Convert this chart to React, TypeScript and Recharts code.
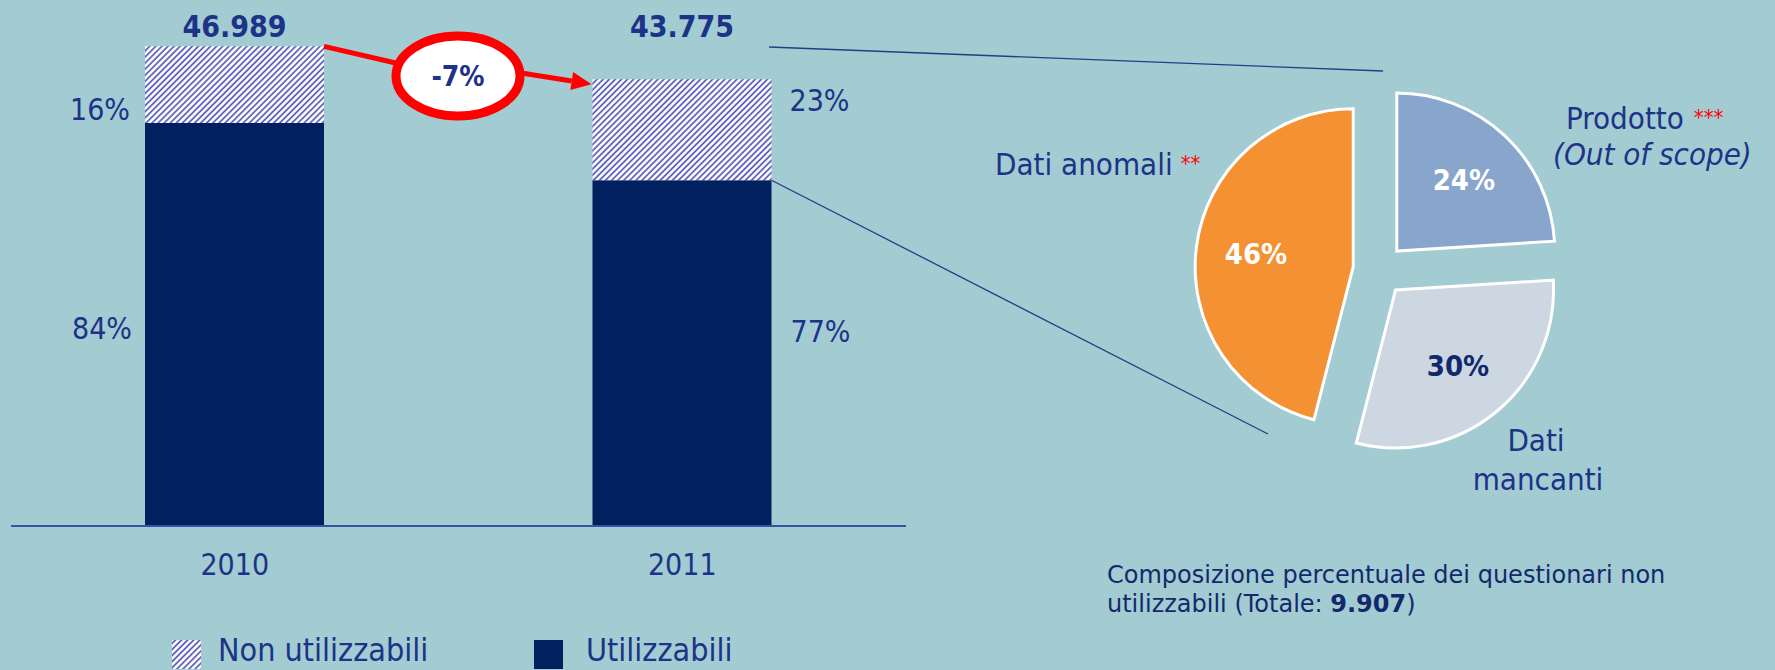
import React from 'react';
import { BarChart, Bar, XAxis, YAxis, LabelList, Legend, PieChart, Pie, Cell } from 'recharts';

// ---- data ----
const years = ['2010', '2011'];
const utilizzabili = [39471, 33868];
const nonUtilizzabili = [7518, 9907];
const totalLabels = ['46.989', '43.775'];
const pctNon = ['16%', '23%'];
const pctUtil = ['84%', '77%'];
const seriesNames = ['Non utilizzabili', 'Utilizzabili'];
const changeLabel = '-7%';

const pieNames = ['Prodotto', 'Dati mancanti', 'Dati anomali'];
const pieValues = [24, 30, 46];
const pieColors = ['#88a5cb', '#cdd7e2', '#f39133'];
const pieLabelColors = ['#ffffff', '#0f2a6c', '#ffffff'];
const captionTotal = '9.907';

// ---- layout / styles ----
const pctNonY = [120, 111];
const pctUtilY = [339, 342];
const BG = '#a2cbd2';
const NAVY = '#002060';
const TEXT = '#1c3388';
const RED = '#ff0000';
const COND = "'DejaVu Sans Condensed', 'Liberation Sans Narrow', 'DejaVu Sans', sans-serif";
const REG = "'DejaVu Sans', sans-serif";
const EXPLODE = 26;
const PIE_R = 158;
const PIE_CX = 424;
const PIE_CY = 265;

const vbOf = (p: any) => {
  const v = p.viewBox && p.viewBox.width !== undefined ? p.viewBox : p;
  return { x: Number(v.x), y: Number(v.y), w: Number(v.width), h: Number(v.height) };
};

const NonLabel = (p: any) => {
  const { x, y, w } = vbOf(p);
  const i = p.index;
  const pct =
    i === 0 ? (
      <text x={x - 15} y={pctNonY[i]} textAnchor="end" fill={TEXT} fontSize={30} fontFamily={COND}>{pctNon[i]}</text>
    ) : (
      <text x={x + w + 18} y={pctNonY[i]} textAnchor="start" fill={TEXT} fontSize={30} fontFamily={COND}>{pctNon[i]}</text>
    );
  let arrow = null;
  if (i === 0) {
    arrow = <line x1={x + w} y1={y} x2={400} y2={64} stroke={RED} strokeWidth={5} />;
  } else {
    const sx = 515, sy = 72, tx = x - 1, ty = y + 5;
    const ang = Math.atan2(ty - sy, tx - sx);
    const L = 20, W = 9;
    const bx = tx - L * Math.cos(ang), by = ty - L * Math.sin(ang);
    const px = -Math.sin(ang) * W, py = Math.cos(ang) * W;
    arrow = (
      <g>
        <line x1={sx} y1={sy} x2={bx} y2={by} stroke={RED} strokeWidth={5} />
        <polygon points={`${tx},${ty} ${bx + px},${by + py} ${bx - px},${by - py}`} fill={RED} />
      </g>
    );
  }
  return (
    <g>
      {arrow}
      {pct}
      <text x={x + w / 2} y={37} textAnchor="middle" fill={TEXT} fontSize={30} fontWeight="bold" fontFamily={COND}>{totalLabels[i]}</text>
    </g>
  );
};

const UtilLabel = (p: any) => {
  const { x, y, w } = vbOf(p);
  const i = p.index;
  return (
    <g>
      {i === 0 ? (
        <text x={x - 13} y={pctUtilY[i]} textAnchor="end" fill={TEXT} fontSize={30} fontFamily={COND}>{pctUtil[i]}</text>
      ) : (
        <text x={x + w + 19} y={pctUtilY[i]} textAnchor="start" fill={TEXT} fontSize={30} fontFamily={COND}>{pctUtil[i]}</text>
      )}
      {i === 1 ? <line x1={x + w} y1={y} x2={1268} y2={434} stroke="#2b3a86" strokeWidth={1.3} /> : null}
    </g>
  );
};

const LegendContent = () => (
  <svg width={700} height={34} style={{ display: 'block', overflow: 'visible' }}>
    <rect x={0} y={4} width={29} height={29} fill="url(#hatch)" />
    <text x={46} y={25} fill={TEXT} fontSize={32} fontFamily={COND}>{seriesNames[0]}</text>
    <rect x={362} y={4} width={29} height={29} fill={NAVY} />
    <text x={414} y={25} fill={TEXT} fontSize={32} fontFamily={COND}>{seriesNames[1]}</text>
  </svg>
);

const makeInnerLabel = (k: number) => (p: any) => {
  if (p.index !== k) return null;
  const rad = (-p.midAngle * Math.PI) / 180;
  const r = p.outerRadius * 0.62;
  const x = p.cx + r * Math.cos(rad);
  const y = p.cy + r * Math.sin(rad);
  return (
    <text x={x} y={y} dy={10} textAnchor="middle" fill={pieLabelColors[k]} fontSize={29} fontWeight="bold" fontFamily={COND}>
      {Math.round(p.percent * 100)}%
    </text>
  );
};

export default function App() {
  const barData = years.map((year, i) => ({ year, util: utilizzabili[i], non: nonUtilizzabili[i] }));
  const pieData = pieNames.map((name, i) => ({ name, value: pieValues[i] }));
  const total = pieValues.reduce((a, b) => a + b, 0);
  let cum = 0;
  const offsets = pieValues.map((v) => {
    const mid = 90 - ((cum + v / 2) / total) * 360;
    cum += v;
    const r = (mid * Math.PI) / 180;
    return { dx: EXPLODE * Math.cos(r), dy: -EXPLODE * Math.sin(r) };
  });

  return (
    <div style={{ position: 'absolute', left: 0, top: 0, width: 1775, height: 670, background: BG, overflow: 'hidden' }}>
      <div style={{ position: 'absolute', left: 0, top: 0 }}>
        <BarChart width={1775} height={670} data={barData} margin={{ top: 36, right: 869, bottom: 84, left: 11 }}>
          <defs>
            <pattern id="hatch" patternUnits="userSpaceOnUse" width={4.3} height={4.3} patternTransform="rotate(45)">
              <rect x={0} y={0} width={4.3} height={4.3} fill="#ffffff" />
              <line x1={1} y1={0} x2={1} y2={4.3} stroke="#5558b5" strokeWidth={1.7} />
            </pattern>
          </defs>
          <XAxis
            dataKey="year"
            height={60}
            axisLine={{ stroke: '#2f55a4', strokeWidth: 2 }}
            tickLine={{ stroke: 'none' }}
            tickSize={6}
            tickMargin={22}
            tick={{ fill: TEXT, fontSize: 30, fontFamily: COND }}
          />
          <YAxis hide domain={[0, 48000]} />
          <Bar dataKey="util" name={seriesNames[1]} stackId="a" fill={NAVY} barSize={179} isAnimationActive={false}>
            <LabelList dataKey="util" content={UtilLabel} />
          </Bar>
          <Bar dataKey="non" name={seriesNames[0]} stackId="a" fill="url(#hatch)" barSize={179} isAnimationActive={false}>
            <LabelList dataKey="non" content={NonLabel} />
          </Bar>
          <Legend
            layout="horizontal"
            verticalAlign="middle"
            align="center"
            wrapperStyle={{ left: 172, top: 636, width: 700, height: 34 }}
            content={LegendContent}
          />
        </BarChart>
      </div>

      <div style={{ position: 'absolute', left: 950, top: 0 }}>
        <PieChart width={825} height={670}>
          {pieValues.map((_, k) => (
            <Pie
              key={k}
              data={pieData}
              dataKey="value"
              nameKey="name"
              cx={PIE_CX + offsets[k].dx}
              cy={PIE_CY + offsets[k].dy}
              outerRadius={PIE_R}
              startAngle={90}
              endAngle={-270}
              isAnimationActive={false}
              label={makeInnerLabel(k)}
              labelLine={false}
            >
              {pieData.map((d, j) => (
                <Cell
                  key={d.name}
                  fill={j === k ? pieColors[j] : 'transparent'}
                  stroke={j === k ? '#ffffff' : 'none'}
                  strokeWidth={j === k ? 3 : 0}
                />
              ))}
            </Pie>
          ))}
        </PieChart>
      </div>

      <svg width={1775} height={670} style={{ position: 'absolute', left: 0, top: 0, pointerEvents: 'none' }}>
        <line x1={769} y1={47} x2={1383} y2={71} stroke="#2b3a86" strokeWidth={1.3} />
        <ellipse cx={458} cy={76} rx={62} ry={40} fill="#ffffff" stroke={RED} strokeWidth={9} />
        <text x={458} y={86} textAnchor="middle" fill={TEXT} fontSize={28} fontWeight="bold" fontFamily={COND}>{changeLabel}</text>

        <text x={995} y={175} fill={TEXT} fontSize={31} fontFamily={COND}>
          {pieNames[2]}
          <tspan fill={RED} fontSize={22} dx={8} dy={-4}>**</tspan>
        </text>
        <text x={1566} y={129} fill={TEXT} fontSize={31} fontFamily={COND}>
          {pieNames[0]}
          <tspan fill={RED} fontSize={22} dx={10} dy={-4}>***</tspan>
        </text>
        <text x={1553} y={165} fill={TEXT} fontSize={31} fontStyle="italic" fontFamily={COND}>(Out of scope)</text>
        <text x={1536} y={451} textAnchor="middle" fill={TEXT} fontSize={31} fontFamily={COND}>Dati</text>
        <text x={1538} y={490} textAnchor="middle" fill={TEXT} fontSize={31} fontFamily={COND}>mancanti</text>

        <text x={1107} y={583} fill="#13296b" fontSize={24} fontFamily={REG}>Composizione percentuale dei questionari non</text>
        <text x={1107} y={612} fill="#13296b" fontSize={24} fontFamily={REG}>
          utilizzabili (Totale: <tspan fontWeight="bold">{captionTotal}</tspan>)
        </text>
      </svg>
    </div>
  );
}
